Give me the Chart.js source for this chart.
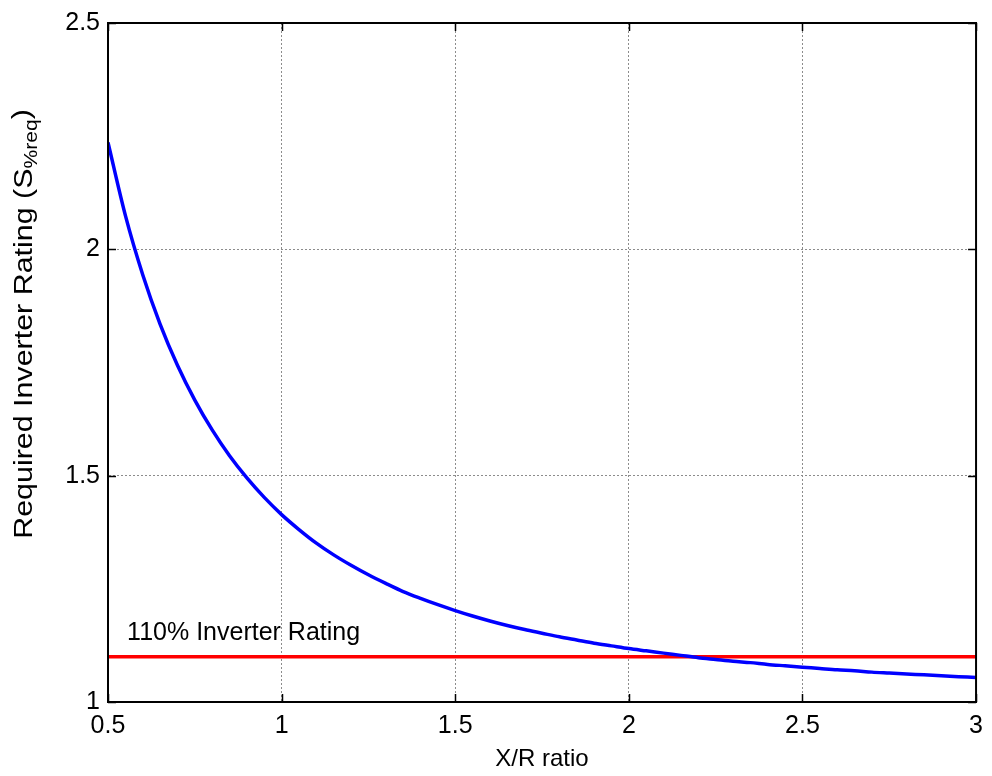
<!DOCTYPE html>
<html>
<head>
<meta charset="utf-8">
<script src="https://cdn.jsdelivr.net/npm/chart.js@4/dist/chart.umd.min.js"></script>
<style>
html,body{margin:0;padding:0;background:#fff;}
#wrap{width:992px;height:776px;position:relative;}
</style>
</head>
<body>
<div id="wrap"><canvas id="c" width="992" height="776"></canvas></div>
<script>
// Data
const xrRatio = [0.50,0.55,0.60,0.65,0.70,0.75,0.80,0.85,0.90,0.95,1.00,1.05,1.10,1.15,1.20,1.25,1.30,1.35,1.40,1.45,1.50,1.55,1.60,1.65,1.70,1.75,1.80,1.85,1.90,1.95,2.00,2.05,2.10,2.15,2.20,2.25,2.30,2.35,2.40,2.45,2.50,2.55,2.60,2.65,2.70,2.75,2.80,2.85,2.90,2.95,3.00];
const requiredRating = [2.236,2.075,1.944,1.835,1.744,1.667,1.601,1.544,1.495,1.452,1.414,1.381,1.351,1.325,1.302,1.281,1.262,1.244,1.229,1.215,1.202,1.190,1.179,1.169,1.160,1.152,1.144,1.137,1.130,1.124,1.118,1.113,1.108,1.103,1.098,1.094,1.090,1.087,1.083,1.080,1.077,1.074,1.071,1.069,1.066,1.064,1.062,1.060,1.058,1.056,1.054];
const thresholdX = [0.5, 3];
const thresholdRating = [1.1, 1.1];
const thresholdLabel = "110% Inverter Rating";
const xTicks = [0.5, 1, 1.5, 2, 2.5, 3];
const yTicks = [1, 1.5, 2, 2.5];
const xTitle = "X/R ratio";
const yTitleMain = "Required Inverter Rating (S";
const yTitleSub = "%req";
const yTitleEnd = ")";

const FONT = "'Liberation Sans', Arial, sans-serif";

const framePlugin = {
  id: 'frame',
  afterDraw(chart) {
    const ctx = chart.ctx, a = chart.chartArea;
    const xs = chart.scales.x, ys = chart.scales.y;
    ctx.save();
    // inner ticks
    ctx.strokeStyle = '#000'; ctx.lineWidth = 1.5;
    const tl = 8;
    ctx.beginPath();
    xTicks.forEach(v => {
      const p = Math.round(xs.getPixelForValue(v)) + 0.5;
      ctx.moveTo(p, a.bottom); ctx.lineTo(p, a.bottom - tl);
      ctx.moveTo(p, a.top); ctx.lineTo(p, a.top + tl);
    });
    yTicks.forEach(v => {
      const p = Math.round(ys.getPixelForValue(v)) + 0.5;
      ctx.moveTo(a.left, p); ctx.lineTo(a.left + tl, p);
      ctx.moveTo(a.right, p); ctx.lineTo(a.right - tl, p);
    });
    ctx.stroke();
    // box
    ctx.lineWidth = 2;
    ctx.strokeRect(a.left, a.top, a.right - a.left, a.bottom - a.top);
    // annotation
    ctx.fillStyle = '#000';
    ctx.font = '25px ' + FONT;
    ctx.textBaseline = 'alphabetic';
    ctx.textAlign = 'left';
    ctx.fillText(thresholdLabel, xs.getPixelForValue(0.555), ys.getPixelForValue(1.138));
    // y title with subscript (rotated, slightly stretched along its length)
    ctx.translate(32, 324);
    ctx.rotate(-Math.PI / 2);
    ctx.scale(1.17, 1);
    const big = '26px ' + FONT, small = '18px ' + FONT;
    ctx.font = big;
    const w1 = ctx.measureText(yTitleMain).width;
    ctx.font = small;
    const w2 = ctx.measureText(yTitleSub).width;
    ctx.font = big;
    const w3 = ctx.measureText(yTitleEnd).width;
    let x0 = -(w1 + w2 + w3) / 2;
    ctx.fillText(yTitleMain, x0, 0);
    ctx.font = small;
    ctx.fillText(yTitleSub, x0 + w1, 5);
    ctx.font = big;
    ctx.fillText(yTitleEnd, x0 + w1 + w2, -2);
    ctx.restore();
  }
};

new Chart(document.getElementById('c'), {
  type: 'scatter',
  data: {
    datasets: [
      {
        data: xrRatio.map((x, i) => ({x, y: requiredRating[i]})),
        showLine: true, borderColor: '#0000ff', borderWidth: 3.5,
        pointRadius: 0, tension: 0.3, fill: false
      },
      {
        data: thresholdX.map((x, i) => ({x, y: thresholdRating[i]})),
        showLine: true, borderColor: '#ff0000', borderWidth: 3.5,
        pointRadius: 0, fill: false
      }
    ]
  },
  options: {
    responsive: false, animation: false, devicePixelRatio: 1,
    layout: { padding: { top: 18, right: 15, left: 0, bottom: 0 } },
    plugins: { legend: { display: false }, tooltip: { enabled: false } },
    scales: {
      x: {
        type: 'linear', min: 0.5, max: 3,
        afterBuildTicks: s => { s.ticks = xTicks.map(v => ({value: v})); },
        afterFit: s => { s.height = 74; },
        grid: { color: '#8c8c8c', lineWidth: 1, drawTicks: false },
        border: { display: true, color: '#000', width: 2, dash: [2, 2] },
        ticks: { color: '#000', font: { family: FONT, size: 25 }, padding: 9, maxRotation: 0, autoSkip: false,
                 callback: v => String(v) },
        title: { display: true, text: xTitle, color: '#000', font: { family: FONT, size: 24 }, padding: { top: 0, bottom: 2 } }
      },
      y: {
        type: 'linear', min: 1, max: 2.5,
        afterBuildTicks: s => { s.ticks = yTicks.map(v => ({value: v})); },
        afterFit: s => { s.width = 108; },
        grid: { color: '#8c8c8c', lineWidth: 1, drawTicks: false },
        border: { display: true, color: '#000', width: 2, dash: [2, 2] },
        ticks: { color: '#000', font: { family: FONT, size: 25 }, padding: 8, autoSkip: false,
                 callback: v => String(v) }
      }
    }
  },
  plugins: [framePlugin]
});
</script>
</body>
</html>
